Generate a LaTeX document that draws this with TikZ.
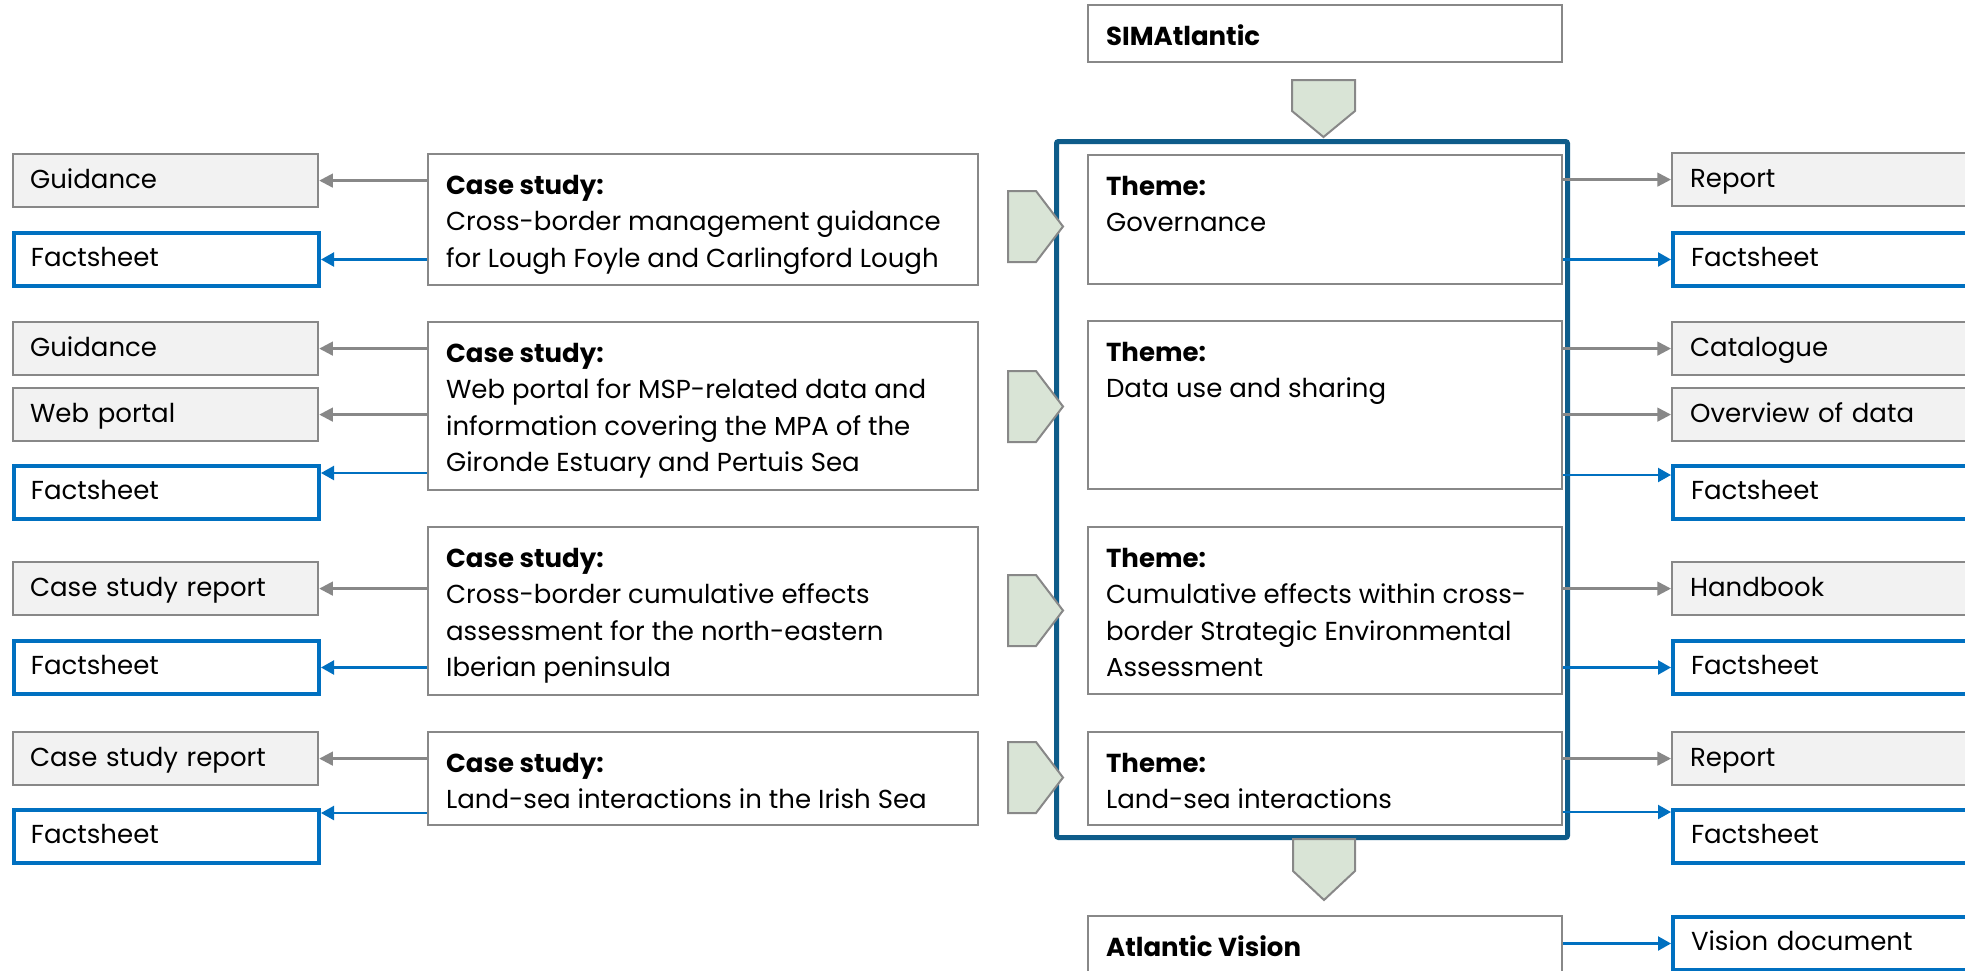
\documentclass[tikz,border=0pt]{standalone}
\usepackage{fontspec}
\setmainfont{Poppins}
\usetikzlibrary{arrows.meta,calc}
\definecolor{grayline}{RGB}{136,136,136}
\definecolor{grayfill}{RGB}{242,242,242}
\definecolor{bluebox}{RGB}{0,112,192}
\definecolor{frameblue}{RGB}{14,92,138}
\definecolor{chevfill}{RGB}{217,228,214}
\newcommand{\bt}[3]{\parbox[c][#2][t]{#1}{\raggedright\rule{0pt}{20pt}#3}}
\begin{document}
\begin{tikzpicture}[x=0.5pt,y=-0.5pt,
  every node/.style={font=\fontsize{13pt}{18.25pt}\selectfont, text=black},
  bigbox/.style={draw=grayline, line width=1.1pt, fill=white, inner xsep=9pt, inner ysep=0pt, anchor=north west},
  lbox/.style={line width=1.1pt, text width=135.5pt, align=left, inner xsep=8.5pt, inner ysep=0pt,
     minimum height=26.5pt, text height=0.74em, text depth=0pt, anchor=north west},
  rbox/.style={lbox, text width=147pt, inner xsep=9pt},
  gb/.style={draw=grayline, fill=grayfill},
  bb/.style={draw=bluebox, fill=white, line width=2pt},
  garr/.style={draw=grayline, line width=1.2pt, -{Triangle[length=6.8pt,width=6.8pt]}},
  barr/.style={draw=bluebox, line width=1.1pt, -{Triangle[length=6.5pt,width=7pt]}},
  chev/.style={draw=grayline, line width=1pt, fill=chevfill, line join=miter}
]
\useasboundingbox (0,0) rectangle (1965,970);
\clip (0,0) rectangle (1965,970);
\fill[white] (0,0) rectangle (1965,970);

% top and bottom boxes
\node[bigbox] (sima) at (1087,4) {\bt{219pt}{28.5pt}{\textbf{SIMAtlantic}}};
\node[bigbox] (vision) at (1087,915) {\bt{219pt}{45pt}{\textbf{Atlantic Vision}}};

% theme boxes
\node[bigbox] (t1) at (1087,154) {\bt{219pt}{64.5pt}{\textbf{Theme:}\\Governance}};
\node[bigbox] (t2) at (1087,320) {\bt{219pt}{84pt}{\textbf{Theme:}\\Data use and sharing}};
\node[bigbox] (t3) at (1087,526) {\bt{219pt}{83.5pt}{\textbf{Theme:}\\Cumulative effects within cross-\\border Strategic Environmental\\Assessment}};
\node[bigbox] (t4) at (1087,731) {\bt{219pt}{46.5pt}{\textbf{Theme:}\\Land-sea interactions}};

% frame
\node[draw=frameblue, line width=2.5pt, rounded corners=1pt, inner sep=0pt, minimum width=255.5pt, minimum height=348pt, anchor=north west] (frame) at (1054,139) {};

% case study boxes
\node[bigbox] (c1) at (427,153) {\bt{257pt}{65.5pt}{\textbf{Case study:}\\Cross-border management guidance\\for Lough Foyle and Carlingford Lough}};
\node[bigbox] (c2) at (427,321) {\bt{257pt}{84pt}{\textbf{Case study:}\\Web portal for MSP-related data and\\information covering the MPA of the\\Gironde Estuary and Pertuis Sea}};
\node[bigbox] (c3) at (427,526) {\bt{257pt}{84pt}{\textbf{Case study:}\\Cross-border cumulative effects\\assessment for the north-eastern\\Iberian peninsula}};
\node[bigbox] (c4) at (427,731) {\bt{257pt}{46.5pt}{\textbf{Case study:}\\Land-sea interactions in the Irish Sea}};

% left output boxes
\node[lbox,gb] (g1) at (12,153) {Guidance};
\node[lbox,bb] (f1) at (12,231) {Factsheet};
\node[lbox,gb] (g2) at (12,321) {Guidance};
\node[lbox,gb] (w2) at (12,387) {Web portal};
\node[lbox,bb] (f2) at (12,464) {Factsheet};
\node[lbox,gb] (r3) at (12,561) {Case study report};
\node[lbox,bb] (f3) at (12,639) {Factsheet};
\node[lbox,gb] (r4) at (12,731) {Case study report};
\node[lbox,bb] (f4) at (12,808) {Factsheet};

% right output boxes
\node[rbox,gb] (rr1) at (1671,152) {Report};
\node[rbox,bb] (rf1) at (1671,231) {Factsheet};
\node[rbox,gb] (rc2) at (1671,321) {Catalogue};
\node[rbox,gb] (ro2) at (1671,387) {Overview of data};
\node[rbox,bb] (rf2) at (1671,464) {Factsheet};
\node[rbox,gb] (rh3) at (1671,561) {Handbook};
\node[rbox,bb] (rf3) at (1671,639) {Factsheet};
\node[rbox,gb] (rr4) at (1671,731) {Report};
\node[rbox,bb] (rf4) at (1671,808) {Factsheet};
\node[rbox,bb] (rv) at (1671,915) {Vision document};

% chevrons
\draw[chev] (1292,80) -- (1355,80) -- (1355,111) -- (1323.5,137) -- (1292,111) -- cycle;
\draw[chev] (1293,839) -- (1355,839) -- (1355,871) -- (1324,900) -- (1293,871) -- cycle;
\foreach \yy in {191,371,575,742}{
  \draw[chev] (1008,\yy) -- ++(28,0) -- ++(27,35.5) -- ++(-27,35.5) -- ++(-28,0) -- cycle;
}

% offset arrow ends
\coordinate (f2a) at ($(f2.north east)+(0,9)$);
\coordinate (f4a) at ($(f4.north east)+(0,5)$);
\coordinate (rf2a) at ($(rf2.north west)+(0,11)$);
\coordinate (rf4a) at ($(rf4.north west)+(0,4)$);

% left arrows
\draw[garr] (c1.west |- g1.east) -- (g1.east);
\draw[barr] (c1.west |- f1.east) -- (f1.east);
\draw[garr] (c2.west |- g2.east) -- (g2.east);
\draw[garr] (c2.west |- w2.east) -- (w2.east);
\draw[barr] (c2.west |- f2a) -- (f2a);
\draw[garr] (c3.west |- r3.east) -- (r3.east);
\draw[barr] (c3.west |- f3.east) -- (f3.east);
\draw[garr] (c4.west |- r4.east) -- (r4.east);
\draw[barr] (c4.west |- f4a) -- (f4a);

% right arrows
\draw[garr] (t1.east |- rr1.west) -- (rr1.west);
\draw[barr] (t1.east |- rf1.west) -- (rf1.west);
\draw[garr] (t2.east |- rc2.west) -- (rc2.west);
\draw[garr] (t2.east |- ro2.west) -- (ro2.west);
\draw[barr] (t2.east |- rf2a) -- (rf2a);
\draw[garr] (t3.east |- rh3.west) -- (rh3.west);
\draw[barr] (t3.east |- rf3.west) -- (rf3.west);
\draw[garr] (t4.east |- rr4.west) -- (rr4.west);
\draw[barr] (t4.east |- rf4a) -- (rf4a);
\draw[barr] (vision.east |- rv.west) -- (rv.west);
\end{tikzpicture}
\end{document}
